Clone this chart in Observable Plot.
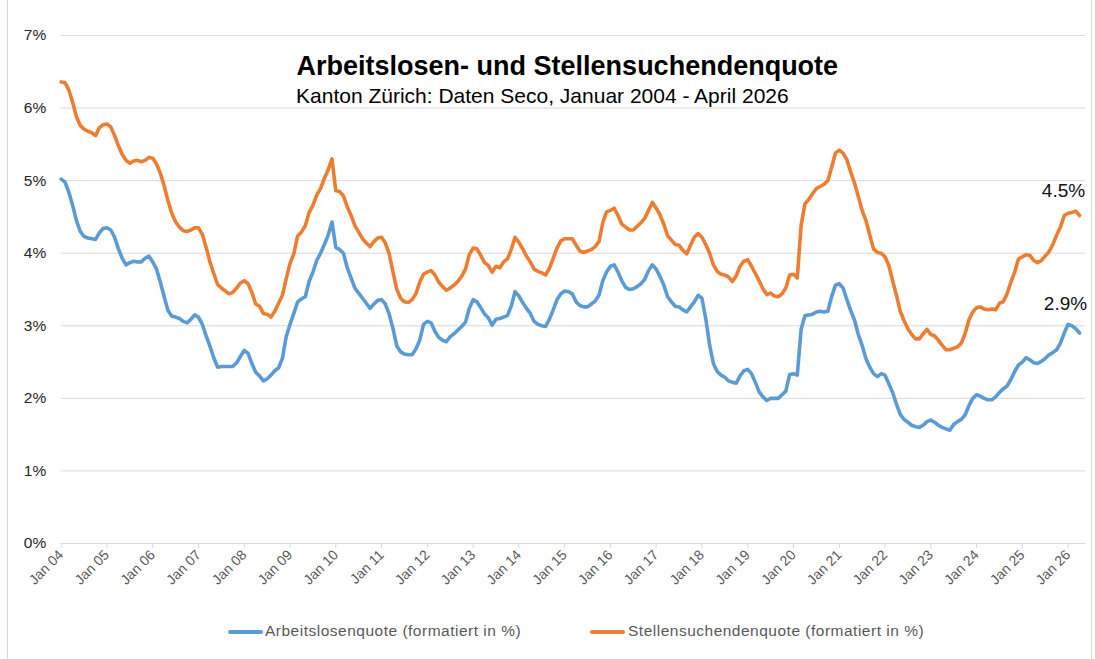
<!DOCTYPE html>
<html><head><meta charset="utf-8">
<script src="https://cdn.jsdelivr.net/npm/d3@7"></script>
<script src="https://cdn.jsdelivr.net/npm/@observablehq/plot@0.6"></script>
<style>
body{margin:0;background:#fff;font-family:"Liberation Sans",Arial,sans-serif;}
#wrap{position:relative;width:1095px;height:659px;overflow:hidden;background:#fff;}
#frame{position:absolute;left:7px;top:0;width:1085px;height:659px;border-left:1px solid #d9d9d9;border-right:1px solid #d9d9d9;box-sizing:border-box;pointer-events:none;}
#legend{position:absolute;left:0;top:600px;width:1095px;height:59px;font-size:15.5px;letter-spacing:0.5px;color:#595959;}
.sw{position:absolute;top:30px;width:35px;height:4px;border-radius:2px;}
.lt{position:absolute;top:22px;white-space:nowrap;}
</style></head>
<body><div id="wrap"><div id="chart"></div><div id="legend"></div><div id="frame"></div></div>
<script>
const title = "Arbeitslosen- und Stellensuchendenquote";
const subtitle = "Kanton Zürich: Daten Seco, Januar 2004 - April 2026";
const seriesNames = ["Arbeitslosenquote (formatiert in %)", "Stellensuchendenquote (formatiert in %)"];
const seriesColors = ["#5B9BD5", "#ED7D31"];
const tickLabels = ["Jan 04","Jan 05","Jan 06","Jan 07","Jan 08","Jan 09","Jan 10","Jan 11","Jan 12","Jan 13","Jan 14","Jan 15","Jan 16","Jan 17","Jan 18","Jan 19","Jan 20","Jan 21","Jan 22","Jan 23","Jan 24","Jan 25","Jan 26"];
const yTicks = [0, 1, 2, 3, 4, 5, 6, 7];

// Monthly values, Jan 2004 .. Apr 2026 (in %)
const arbeitslosenquote = [
  5.02,4.98,4.84,4.66,4.45,4.30,4.23,4.21,4.20,4.19,4.28,4.34,
  4.35,4.32,4.22,4.06,3.93,3.84,3.87,3.89,3.88,3.88,3.93,3.96,
  3.88,3.78,3.60,3.40,3.21,3.13,3.12,3.10,3.06,3.04,3.09,3.15,
  3.12,3.02,2.86,2.72,2.56,2.43,2.44,2.44,2.44,2.44,2.49,2.58,
  2.66,2.62,2.48,2.36,2.31,2.24,2.27,2.32,2.38,2.42,2.55,2.85,
  3.02,3.17,3.33,3.37,3.40,3.61,3.74,3.90,4.00,4.12,4.25,4.43,
  4.08,4.05,4.00,3.80,3.66,3.52,3.45,3.38,3.31,3.24,3.30,3.35,
  3.36,3.30,3.16,2.96,2.72,2.64,2.61,2.60,2.60,2.68,2.80,3.02,
  3.06,3.04,2.92,2.84,2.80,2.78,2.85,2.89,2.94,2.99,3.05,3.24,
  3.36,3.33,3.25,3.16,3.11,3.01,3.09,3.10,3.12,3.14,3.27,3.47,
  3.41,3.32,3.24,3.17,3.06,3.02,3.00,2.99,3.09,3.22,3.36,3.44,
  3.48,3.47,3.44,3.33,3.28,3.26,3.26,3.30,3.34,3.42,3.62,3.74,
  3.82,3.84,3.74,3.62,3.53,3.50,3.51,3.54,3.58,3.64,3.76,3.84,
  3.78,3.68,3.56,3.40,3.33,3.27,3.26,3.22,3.19,3.26,3.33,3.42,
  3.38,3.10,2.74,2.48,2.37,2.32,2.29,2.24,2.22,2.21,2.31,2.38,
  2.40,2.34,2.22,2.09,2.02,1.97,2.00,2.00,2.00,2.05,2.10,2.33,
  2.34,2.32,2.95,3.14,3.15,3.16,3.19,3.20,3.19,3.20,3.40,3.56,
  3.58,3.52,3.36,3.21,3.08,2.88,2.73,2.55,2.43,2.34,2.30,2.34,
  2.32,2.20,2.08,1.92,1.78,1.71,1.67,1.63,1.61,1.60,1.63,1.68,
  1.70,1.67,1.63,1.60,1.58,1.56,1.64,1.68,1.71,1.77,1.90,2.00,
  2.05,2.03,2.00,1.98,1.98,2.02,2.08,2.13,2.17,2.26,2.37,2.46,
  2.50,2.56,2.53,2.49,2.48,2.51,2.55,2.60,2.63,2.67,2.76,2.90,
  3.02,3.00,2.96,2.90
];
const stellensuchendenquote = [
  6.36,6.35,6.25,6.08,5.88,5.76,5.71,5.68,5.66,5.62,5.73,5.77,
  5.78,5.74,5.62,5.48,5.36,5.28,5.24,5.27,5.28,5.26,5.28,5.32,
  5.31,5.23,5.10,4.93,4.72,4.55,4.43,4.36,4.31,4.30,4.32,4.35,
  4.35,4.26,4.08,3.88,3.72,3.57,3.52,3.48,3.44,3.46,3.52,3.59,
  3.62,3.58,3.46,3.30,3.27,3.17,3.16,3.12,3.20,3.31,3.42,3.65,
  3.86,3.99,4.24,4.29,4.38,4.56,4.66,4.80,4.89,5.03,5.15,5.30,
  4.86,4.85,4.79,4.64,4.52,4.38,4.29,4.20,4.14,4.09,4.16,4.21,
  4.22,4.14,3.99,3.74,3.50,3.38,3.33,3.32,3.36,3.44,3.60,3.71,
  3.74,3.76,3.70,3.60,3.54,3.49,3.52,3.56,3.61,3.68,3.78,3.98,
  4.07,4.06,3.97,3.87,3.83,3.74,3.82,3.80,3.88,3.92,4.05,4.22,
  4.15,4.06,3.96,3.88,3.78,3.75,3.73,3.70,3.79,3.93,4.07,4.17,
  4.20,4.20,4.20,4.11,4.03,4.01,4.03,4.05,4.09,4.16,4.42,4.57,
  4.59,4.62,4.52,4.40,4.36,4.32,4.32,4.37,4.42,4.48,4.59,4.70,
  4.62,4.53,4.40,4.24,4.18,4.12,4.11,4.04,3.99,4.11,4.22,4.27,
  4.22,4.12,4.00,3.84,3.75,3.71,3.70,3.67,3.61,3.69,3.82,3.89,
  3.91,3.82,3.72,3.62,3.51,3.43,3.45,3.41,3.40,3.44,3.52,3.70,
  3.71,3.66,4.38,4.68,4.74,4.82,4.89,4.92,4.95,5.00,5.18,5.38,
  5.42,5.38,5.29,5.12,4.97,4.78,4.59,4.45,4.25,4.06,4.01,4.00,
  3.95,3.83,3.62,3.42,3.20,3.07,2.96,2.88,2.82,2.82,2.89,2.95,
  2.88,2.86,2.80,2.73,2.67,2.67,2.69,2.71,2.76,2.89,3.08,3.19,
  3.25,3.26,3.23,3.22,3.23,3.22,3.31,3.33,3.44,3.60,3.74,3.92,
  3.95,3.98,3.97,3.90,3.87,3.90,3.96,4.02,4.12,4.25,4.36,4.52,
  4.55,4.56,4.58,4.52
];

const alq = arbeitslosenquote.map((v, i) => ({i, v}));
const ssq = stellensuchendenquote.map((v, i) => ({i, v}));
const tickIdx = tickLabels.map((d, k) => k * 12);
const lastA = [alq[alq.length - 1]];
const lastS = [ssq[ssq.length - 1]];

const chart = Plot.plot({
  width: 1095,
  height: 600,
  marginLeft: 60.7,
  marginRight: 10,
  marginTop: 35,
  marginBottom: 57,
  style: {fontFamily: "'Liberation Sans', Arial, sans-serif", background: "transparent", overflow: "visible"},
  x: {type: "linear", domain: [0, 268.57]},
  y: {domain: [0, 7]},
  marks: [
    Plot.ruleY(yTicks, {stroke: "#d9d9d9", strokeWidth: 1}),
    Plot.axisY({ticks: yTicks, tickSize: 0, tickPadding: 15, tickFormat: d => d + "%", fontSize: 15.5, fill: "#262626", label: null}),
    Plot.axisX({ticks: tickIdx, tickFormat: d => tickLabels[Math.round(d / 12)], tickRotate: -45, tickSize: 5, tickPadding: 4, stroke: "#d9d9d9", fill: "#595959", fontSize: 14, label: null}),
    Plot.lineY(alq, {x: "i", y: "v", stroke: seriesColors[0], strokeWidth: 3.6, strokeLinejoin: "round", strokeLinecap: "round"}),
    Plot.lineY(ssq, {x: "i", y: "v", stroke: seriesColors[1], strokeWidth: 3.6, strokeLinejoin: "round", strokeLinecap: "round"}),
    Plot.text(lastS, {x: "i", y: "v", text: d => d.v.toFixed(1) + "%", dx: -16, dy: -25, fontSize: 19, fill: "#111"}),
    Plot.text(lastA, {x: "i", y: "v", text: d => d.v.toFixed(1) + "%", dx: -14, dy: -29, fontSize: 19, fill: "#111"}),
    Plot.text([title], {text: d => d, frameAnchor: "top", lineAnchor: "middle", dx: -6, dy: 31, fontSize: 27, fontWeight: "bold", fill: "#000"}),
    Plot.text([subtitle], {text: d => d, frameAnchor: "top", lineAnchor: "middle", dx: -31, dy: 61, fontSize: 21, fill: "#000"})
  ]
});
document.getElementById("chart").appendChild(chart);

const legend = document.getElementById("legend");
const legendPos = [[228, 265], [590, 628]];
seriesNames.forEach((name, k) => {
  const sw = document.createElement("div");
  sw.className = "sw";
  sw.style.left = legendPos[k][0] + "px";
  sw.style.background = seriesColors[k];
  legend.appendChild(sw);
  const t = document.createElement("div");
  t.className = "lt";
  t.style.left = legendPos[k][1] + "px";
  t.textContent = name;
  legend.appendChild(t);
});
</script></body></html>
